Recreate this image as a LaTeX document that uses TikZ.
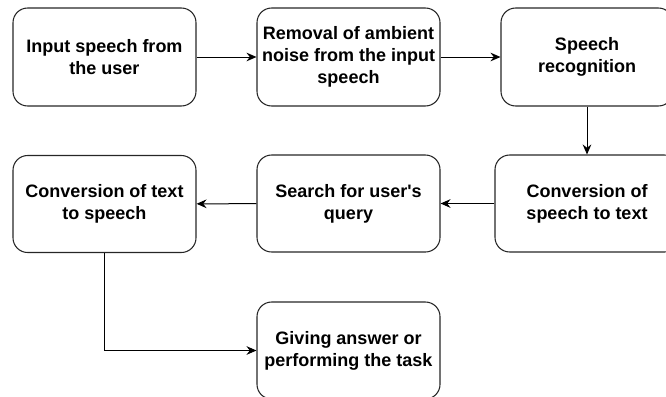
\documentclass[tikz,border=0pt]{standalone}
\usepackage{fontspec}
\setmainfont{Liberation Sans}
\usetikzlibrary{arrows.meta}
\begin{document}
\begin{tikzpicture}[x=0.75pt,y=-0.75pt,
  box/.style={draw=black!85,line width=0.8pt,rounded corners=11pt,minimum width=137.25pt,minimum height=73.5pt,align=center,inner sep=0pt,font=\fontsize{13.5}{16.5}\selectfont\bfseries},
  conn/.style={draw=black,line width=0.75pt,-{Stealth[length=7.5pt,width=6.5pt,inset=2.5pt]}}]
\useasboundingbox (0,0) rectangle (666,396);
\clip (0,0) rectangle (666,396);
\node[box] (b1) at (104.5,57) {Input speech from\\the user};
\node[box] (b2) at (348.5,57) {Removal of ambient\\noise from the input\\speech};
\node[box,minimum width=129pt] (b3) at (587,57) {Speech\\recognition};
\node[box,minimum width=138pt,minimum height=72.75pt] (b4) at (587,203.5) {Conversion of\\speech to text};
\node[box,minimum height=72.75pt] (b5) at (348.5,203.5) {Search for user\textquotesingle s\\query};
\node[box,minimum height=72.75pt] (b6) at (104.5,204) {Conversion of text\\to speech};
\node[box,minimum height=72.75pt] (b7) at (348.5,350.5) {Giving answer or\\performing the task};
\draw[conn] (b1) -- (b2);
\draw[conn] (b2) -- (b3);
\draw[conn] (b3) -- (b4);
\draw[conn] (b4) -- (b5);
\draw[conn] (b5) -- (b6);
\draw[conn] (b6.south) |- (b7.west);
\end{tikzpicture}
\end{document}
